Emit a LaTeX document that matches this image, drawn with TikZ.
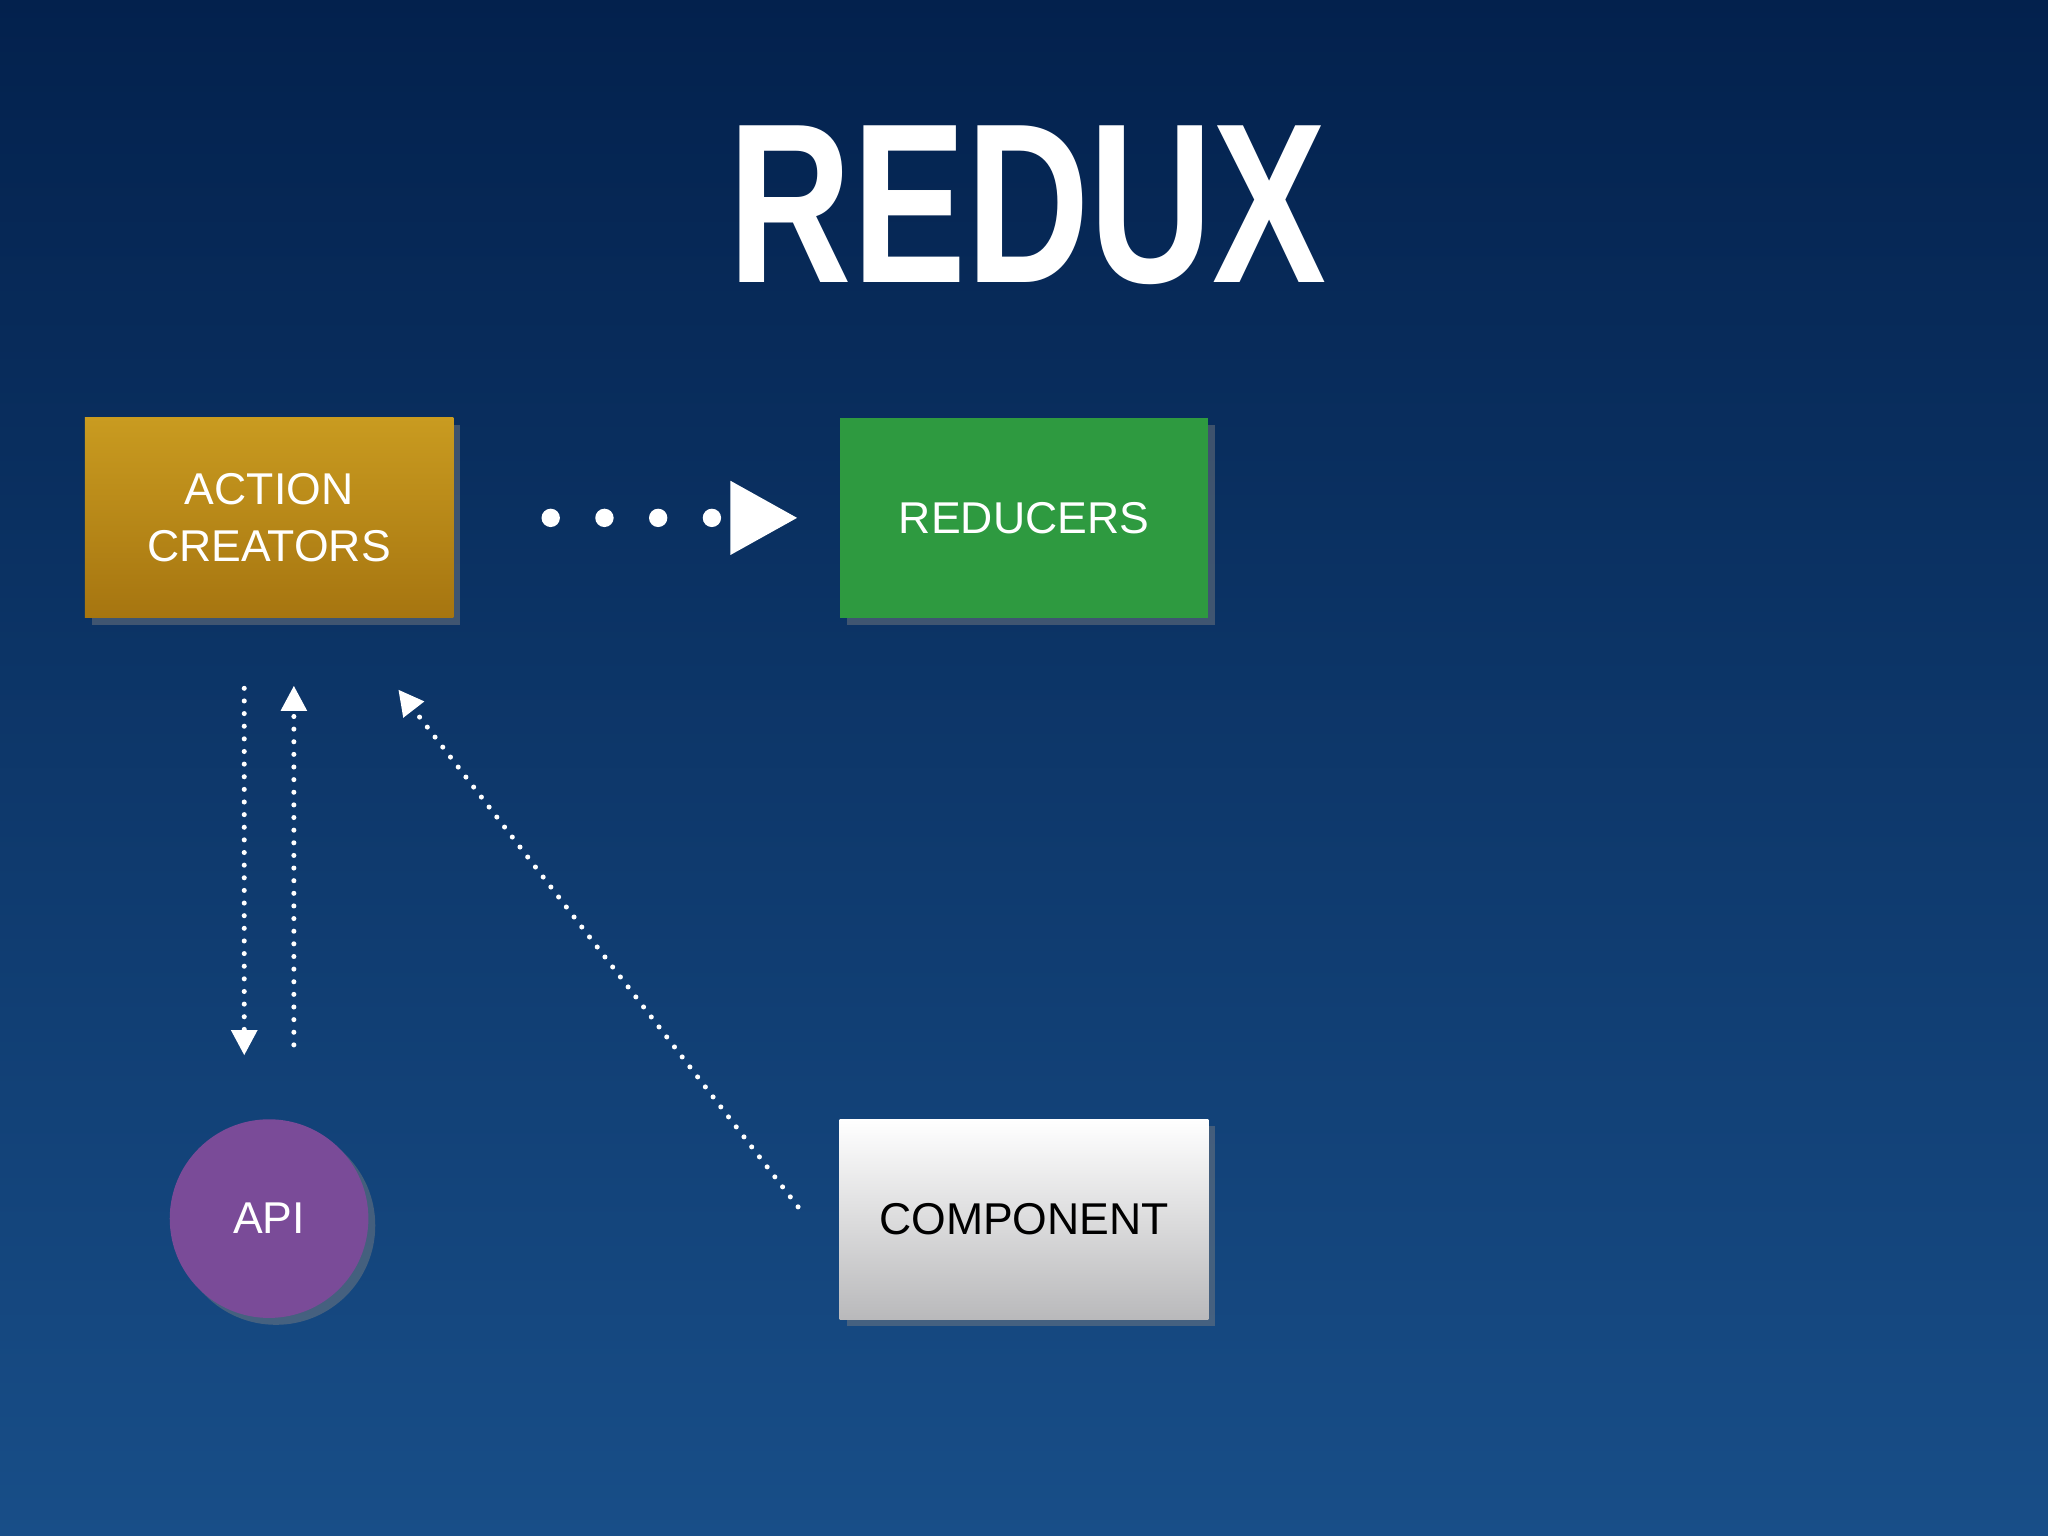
\documentclass[tikz,border=0pt]{standalone}
\usepackage{fontspec}
\setmainfont{Liberation Sans}
\usetikzlibrary{arrows.meta,shadows}
\definecolor{bgtop}{HTML}{03214D}
\definecolor{bgbot}{HTML}{184E88}
\definecolor{goldtop}{HTML}{C99B20}
\definecolor{goldbot}{HTML}{A67510}
\definecolor{grn}{HTML}{2E9A40}
\definecolor{greybot}{HTML}{B9B9BB}
\definecolor{purp}{HTML}{7A4B98}
\begin{document}
\begin{tikzpicture}[x=0.01cm,y=-0.01cm,
  box/.style={rectangle,minimum width=2.82cm,minimum height=1.53cm,inner sep=0pt,align=center,
    font=\fontsize{9.7}{12.5}\selectfont,drop shadow={shadow xshift=1.5pt,shadow yshift=-1.5pt,opacity=0.45}},
  dotline/.style={white,line width=1.1pt,line cap=round,dash pattern=on 0pt off 2.75pt},
  tip/.style={-{Triangle[length=5.5pt,width=5.5pt]}}]
\useasboundingbox (0,0) rectangle (1568,1176);
\shade[top color=bgtop,bottom color=bgbot] (0,0) rectangle (1568,1176);
\node[text=white,font=\bfseries\fontsize{49.6}{50}\selectfont] (title) at (787,157) {\scalebox{0.75}[1]{REDUX}};
\node[box,top color=goldtop,bottom color=goldbot,text=white] (ac) at (206,396.5) {ACTION\\CREATORS};
\node[box,fill=grn,text=white] (red) at (784,396.5) {REDUCERS};
\node[box,top color=white,bottom color=greybot,text=black] (comp) at (784,933.5) {COMPONENT};
\node[circle,minimum size=1.52cm,inner sep=0pt,fill=purp,text=white,font=\fontsize{9.7}{12}\selectfont,
  drop shadow={shadow xshift=1.5pt,shadow yshift=-1.5pt,opacity=0.45}] (api) at (206,933) {API};
\draw[white,line width=4pt,line cap=round,dash pattern=on 0pt off 11.7pt,shorten <=21pt,shorten >=8.8pt,
  -{Triangle[length=14.8pt,width=15pt]}] (ac.east) -- (red.west);
\coordinate (a1) at (187,527); \coordinate (a2) at (187,808);
\coordinate (b1) at (225,800); \coordinate (b2) at (225,525);
\coordinate (c1) at (611,924); \coordinate (c2) at (305,528);
\draw[dotline,tip] (a1) -- (a2);
\draw[dotline,tip] (b1) -- (b2);
\draw[dotline,tip] (c1) -- (c2);
\end{tikzpicture}
\end{document}
